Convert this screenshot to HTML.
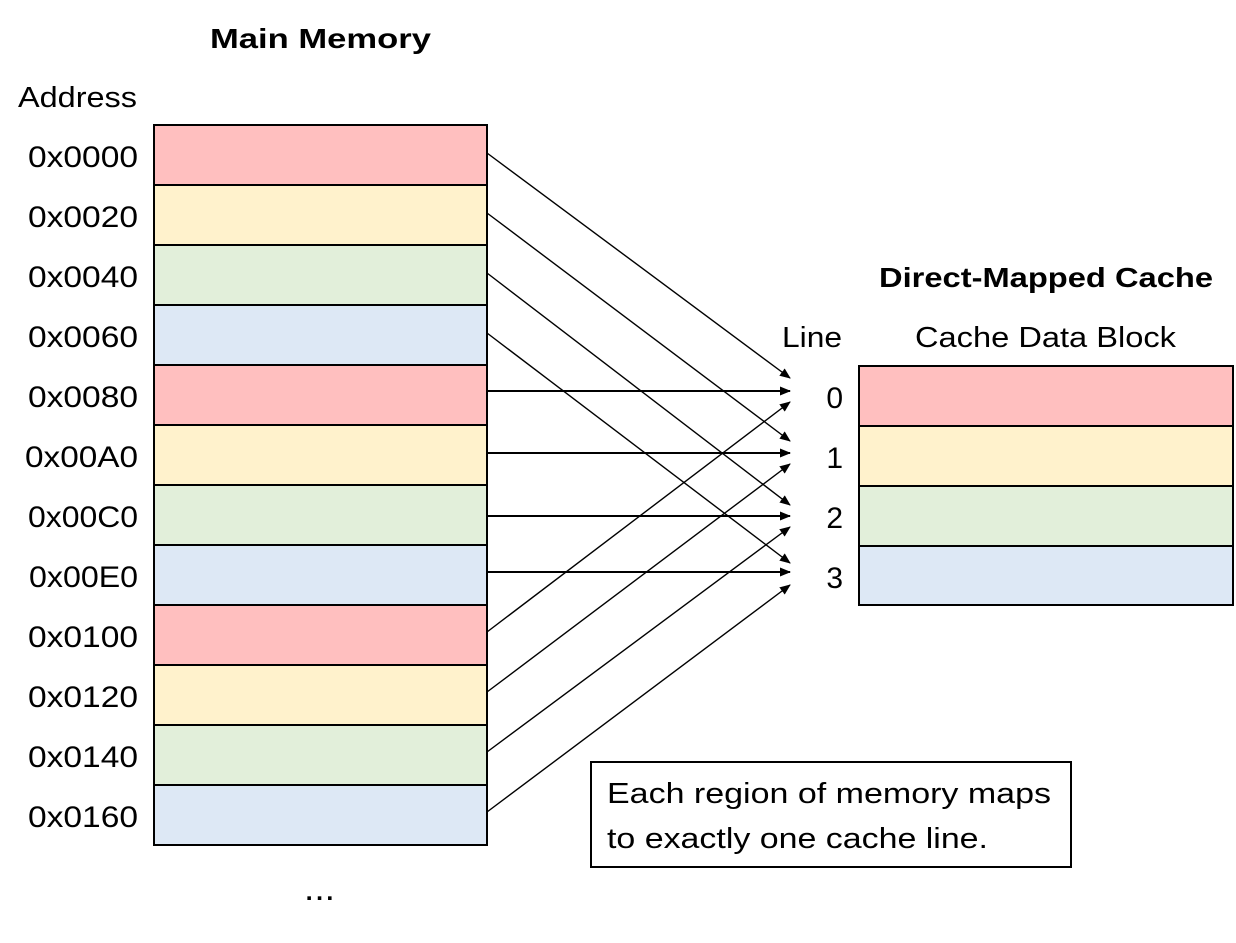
<!DOCTYPE html>
<html><head><meta charset="utf-8"><style>
html,body{margin:0;padding:0;background:#fff;}
svg{display:block;}
text{font-family:"Liberation Sans",sans-serif;fill:#000;}
</style></head><body>
<svg width="1236" height="943" viewBox="0 0 1236 943" xmlns="http://www.w3.org/2000/svg">
<defs>
<marker id="ah" markerWidth="11" markerHeight="9" refX="10" refY="4.5" orient="auto" markerUnits="userSpaceOnUse">
<path d="M0,0 L11,4.5 L0,9 z" fill="#000"/>
</marker>
</defs>
<text x="210" y="48" font-size="28" font-weight="bold" textLength="221" lengthAdjust="spacingAndGlyphs">Main Memory</text>
<text x="18" y="107" font-size="29" textLength="119" lengthAdjust="spacingAndGlyphs">Address</text>
<g stroke="#000" stroke-width="2">
<rect x="154" y="125" width="333" height="60" fill="#ffbfbf"/>
<rect x="154" y="185" width="333" height="60" fill="#fff2cc"/>
<rect x="154" y="245" width="333" height="60" fill="#e2efda"/>
<rect x="154" y="305" width="333" height="60" fill="#dde8f5"/>
<rect x="154" y="365" width="333" height="60" fill="#ffbfbf"/>
<rect x="154" y="425" width="333" height="60" fill="#fff2cc"/>
<rect x="154" y="485" width="333" height="60" fill="#e2efda"/>
<rect x="154" y="545" width="333" height="60" fill="#dde8f5"/>
<rect x="154" y="605" width="333" height="60" fill="#ffbfbf"/>
<rect x="154" y="665" width="333" height="60" fill="#fff2cc"/>
<rect x="154" y="725" width="333" height="60" fill="#e2efda"/>
<rect x="154" y="785" width="333" height="60" fill="#dde8f5"/>
<rect x="859" y="366" width="374" height="60" fill="#ffbfbf"/>
<rect x="859" y="426" width="374" height="60" fill="#fff2cc"/>
<rect x="859" y="486" width="374" height="60" fill="#e2efda"/>
<rect x="859" y="546" width="374" height="59" fill="#dde8f5"/>
<rect x="591" y="762" width="480" height="105" fill="#fff"/>
</g>
<g font-size="30">
<text x="28" y="167" textLength="110" lengthAdjust="spacingAndGlyphs">0x0000</text>
<text x="28" y="227" textLength="110" lengthAdjust="spacingAndGlyphs">0x0020</text>
<text x="28" y="287" textLength="110" lengthAdjust="spacingAndGlyphs">0x0040</text>
<text x="28" y="347" textLength="110" lengthAdjust="spacingAndGlyphs">0x0060</text>
<text x="28" y="407" textLength="110" lengthAdjust="spacingAndGlyphs">0x0080</text>
<text x="25" y="467" textLength="113" lengthAdjust="spacingAndGlyphs">0x00A0</text>
<text x="28" y="527" textLength="110" lengthAdjust="spacingAndGlyphs">0x00C0</text>
<text x="29" y="587" textLength="109" lengthAdjust="spacingAndGlyphs">0x00E0</text>
<text x="28" y="647" textLength="110" lengthAdjust="spacingAndGlyphs">0x0100</text>
<text x="28" y="707" textLength="110" lengthAdjust="spacingAndGlyphs">0x0120</text>
<text x="28" y="767" textLength="110" lengthAdjust="spacingAndGlyphs">0x0140</text>
<text x="28" y="827" textLength="110" lengthAdjust="spacingAndGlyphs">0x0160</text>
</g>
<text x="304" y="900" font-size="34" textLength="31" lengthAdjust="spacingAndGlyphs">...</text>
<text x="879" y="287" font-size="28" font-weight="bold" textLength="334" lengthAdjust="spacingAndGlyphs">Direct-Mapped Cache</text>
<text x="782" y="347" font-size="29" textLength="60" lengthAdjust="spacingAndGlyphs">Line</text>
<text x="915" y="347" font-size="29" textLength="261" lengthAdjust="spacingAndGlyphs">Cache Data Block</text>
<g font-size="30" text-anchor="end">
<text x="843" y="408">0</text>
<text x="843" y="468">1</text>
<text x="843" y="528">2</text>
<text x="843" y="588">3</text>
</g>
<text x="607" y="803" font-size="29" textLength="444" lengthAdjust="spacingAndGlyphs">Each region of memory maps</text>
<text x="607" y="848" font-size="29" textLength="381" lengthAdjust="spacingAndGlyphs">to exactly one cache line.</text>
<g stroke="#000" stroke-width="1.4" marker-end="url(#ah)">
<line x1="487" y1="153" x2="790" y2="378"/>
<line x1="487" y1="213" x2="790" y2="441"/>
<line x1="487" y1="273" x2="790" y2="505"/>
<line x1="487" y1="333" x2="790" y2="563"/>
<line x1="487" y1="632" x2="790" y2="402"/>
<line x1="487" y1="692" x2="790" y2="464"/>
<line x1="487" y1="752" x2="790" y2="527"/>
<line x1="487" y1="812" x2="790" y2="585"/>
</g>
<g stroke="#000" stroke-width="2" marker-end="url(#ah)">
<line x1="487" y1="391" x2="790" y2="391"/>
<line x1="487" y1="453" x2="790" y2="453"/>
<line x1="487" y1="516" x2="790" y2="516"/>
<line x1="487" y1="572" x2="790" y2="572"/>
</g>
</svg>
</body></html>
